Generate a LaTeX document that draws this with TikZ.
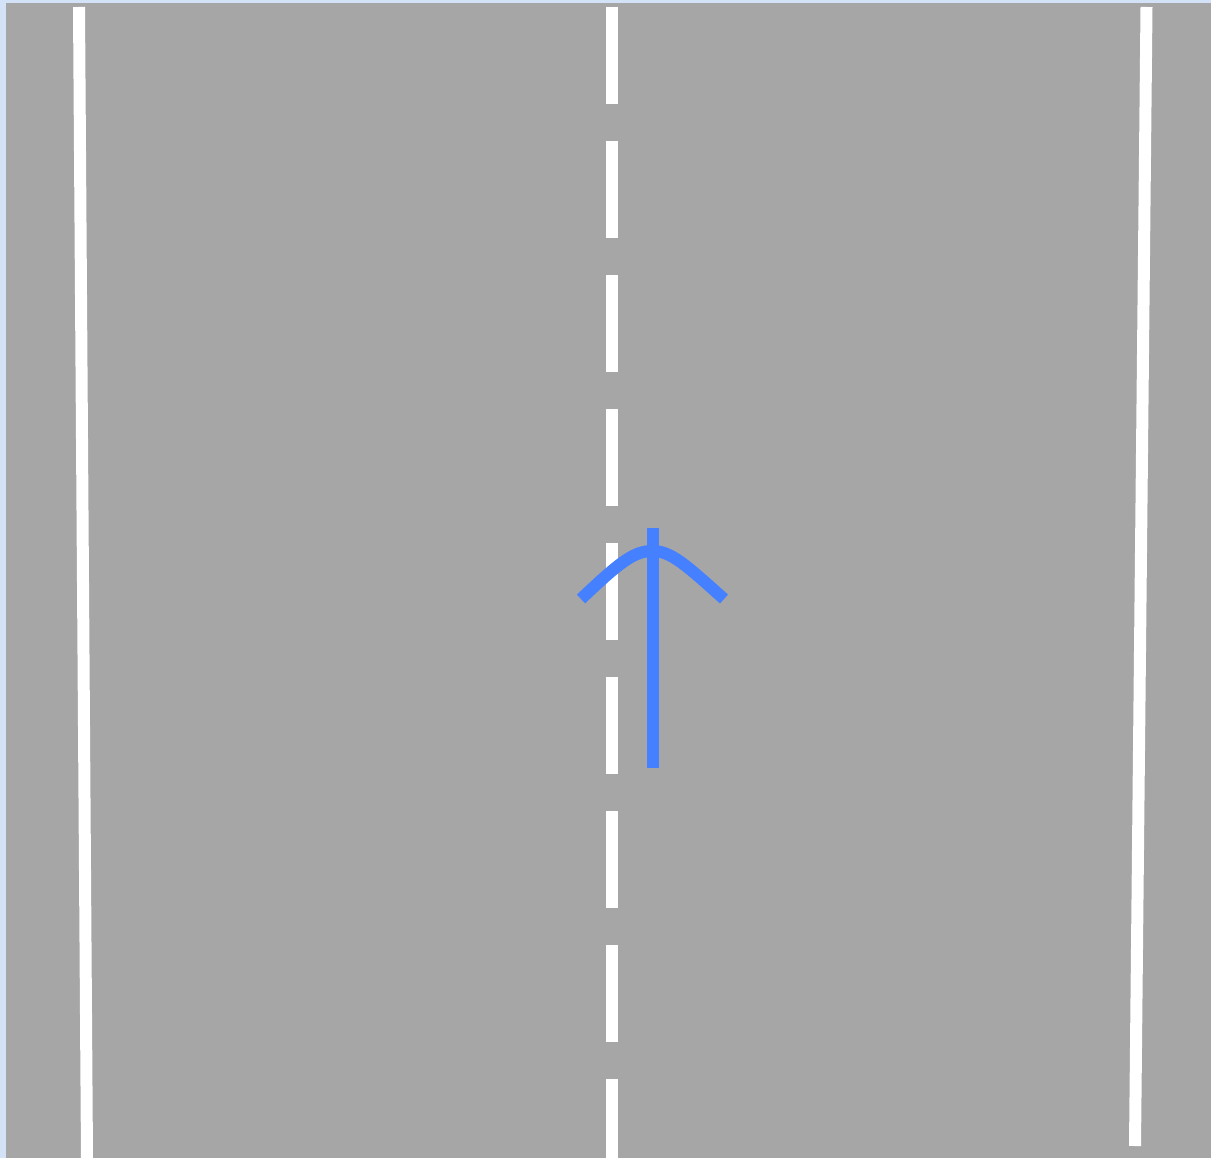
\documentclass[tikz,border=0pt]{standalone}
\definecolor{bgblue}{HTML}{D4E2F8}
\definecolor{road}{HTML}{A6A6A6}
\definecolor{arrowblue}{HTML}{4480FF}
\tikzset{
  lane/.style={white, line width=12pt},
  centerlane/.style={white, line width=12pt, dash pattern=on 97pt off 37pt},
  turn/.style={arrowblue, line width=12pt}
}
\begin{document}
\begin{tikzpicture}[x=1pt,y=-1pt]
\fill[bgblue] (0,0) rectangle (1211,1158);
\useasboundingbox (0,0) rectangle (1211,1158);
\fill[road] (6,3) rectangle (1211,1158);
% edge lines
\coordinate (lt) at (79,7);
\coordinate (lb) at (87,1158);
\coordinate (rt) at (1146.5,7);
\coordinate (rb) at (1135,1146);
\draw[lane] (lt) -- (lb);
\draw[lane] (rt) -- (rb);
% center dashed line
\coordinate (ct) at (612,7);
\coordinate (cb) at (612,1158);
\draw[centerlane] (ct) -- (cb);
% arrow
\coordinate (as) at (652.5,768);
\coordinate (ae) at (652.5,528);
\coordinate (hl) at (581,599);
\coordinate (hr) at (724,599);
\draw[turn] (as) -- (ae);
\draw[turn] (hl) .. controls (620,562) and (634,551) .. (652.5,551) .. controls (671,551) and (686,565) .. (hr);
\end{tikzpicture}
\end{document}
